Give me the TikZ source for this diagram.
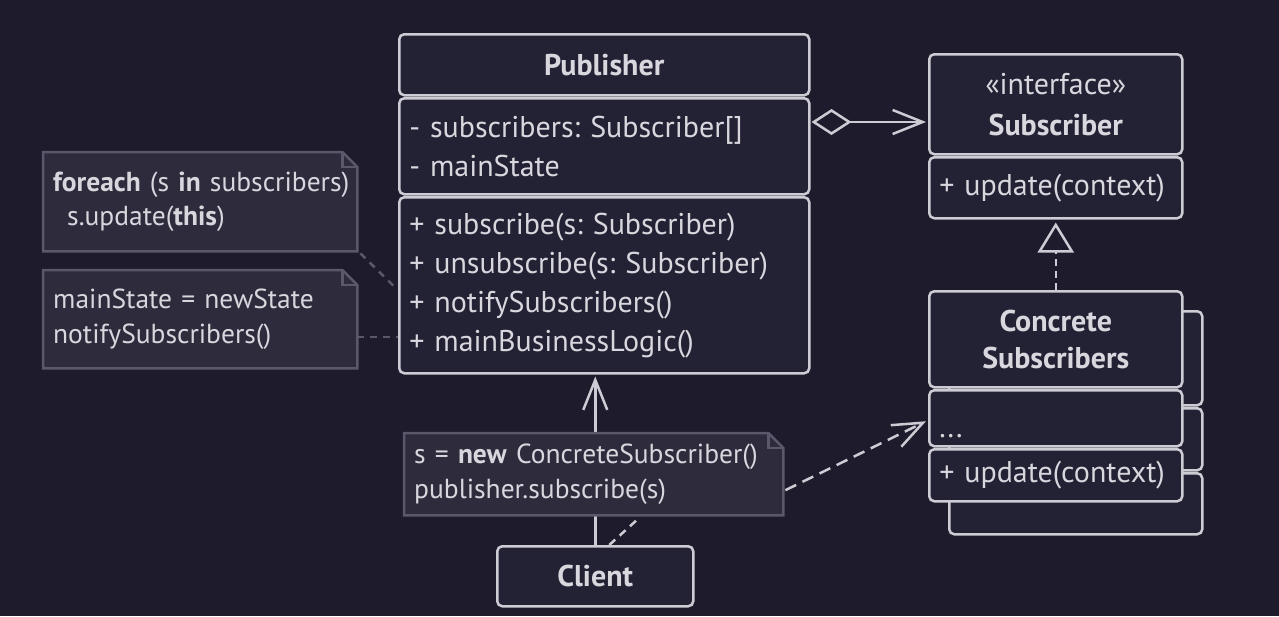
\documentclass[tikz,border=0pt]{standalone}
\usepackage{fontspec}
\setmainfont{PT Sans}
\usetikzlibrary{arrows.meta,backgrounds,positioning}

\definecolor{bgcol}{RGB}{30,28,44}
\definecolor{boxcol}{RGB}{35,33,52}
\definecolor{linecol}{RGB}{205,204,212}
\definecolor{textcol}{RGB}{216,215,222}
\definecolor{notecol}{RGB}{45,43,60}
\definecolor{noteline}{RGB}{90,88,106}

% note outline with folded corner, drawn round a named node
\newcommand{\notefold}[1]{%
  \draw[noteline,fill=notecol,line width=2.5pt,line join=miter]
    (#1.north west) -- ([xshift=-15pt]#1.north east)
    -- ([yshift=-15pt]#1.north east) -- (#1.south east)
    -- (#1.south west) -- cycle;
  \draw[noteline,line width=2.5pt]
    ([xshift=-15pt]#1.north east) |- ([yshift=-15pt]#1.north east);
}

\begin{document}
\frenchspacing
\begin{tikzpicture}[x=1pt,y=-1pt]
    % `compart' is one compartment of a class box.
    % `note' is the text part of a comment, its outline comes from \notefold.
    \tikzstyle{compart} = [draw=linecol,fill=boxcol,line width=2.5pt,rounded corners=5pt,
      anchor=north west,inner xsep=10pt,inner ysep=0pt,text=textcol,
      font=\fontsize{30}{39}\selectfont]
    \tikzstyle{note} = [anchor=north west,inner xsep=10pt,inner ysep=0pt,align=left,
      text=textcol,font=\fontsize{27.5}{34.5}\selectfont]
    \tikzstyle{uml} = [linecol,line width=2.5pt]
    \tikzstyle{barb} = [-{Straight Barb[length=30pt,width=24pt,line width=2.5pt]}]
    \tikzstyle{notelink} = [noteline,line width=2.5pt,dash pattern=on 7pt off 6pt]
    %
    \useasboundingbox (0,0) rectangle (1279,616);
    %
    % Publisher
    \node[compart,align=center,text width=390pt,minimum height=61pt] (pubhead) at (398,33)
      {\bfseries Publisher};
    \node[compart,align=left,text width=390pt,minimum height=96pt] (pubattr) at (398,97)
      {- subscribers: Subscriber[]\\- mainState};
    \node[compart,align=left,text width=390pt,minimum height=176pt] (pubops) at (398,196)
      {+ subscribe(s: Subscriber)\\+ unsubscribe(s: Subscriber)\\
       + notifySubscribers()\\+ mainBusinessLogic()};
    %
    % Subscriber interface
    \node[compart,align=center,text width=233pt,minimum height=100pt] (subhead) at (928,53)
      {«interface»\\[2pt]\bfseries Subscriber};
    \node[compart,align=left,text width=233pt,minimum height=61pt] (subops) at (928,156)
      {+ update(context)};
    %
    % Concrete subscribers, one box stacked behind the other
    \node[compart,text width=233pt,minimum height=94pt] (backhead) at (948,310) {};
    \node[compart,text width=233pt,minimum height=62pt] (backattr) at (948,407) {};
    \node[compart,text width=233pt,minimum height=61pt] (backops) at (948,472) {};
    \node[compart,align=center,text width=233pt,minimum height=96pt] (conhead) at (928,290)
      {\bfseries Concrete\\[-2pt]\bfseries Subscribers};
    \node[compart,align=left,text width=233pt,minimum height=56pt] (conattr) at (928,389)
      {\strut\raisebox{-11pt}[0pt][0pt]{...}};
    \node[compart,align=left,text width=233pt,minimum height=52pt] (conops) at (928,448)
      {+ update(context)};
    %
    % Client
    \node[compart,align=center,text width=176pt,minimum height=60pt] (client) at (496,545)
      {\bfseries Client};
    %
    % Notes
    \node[note,text width=294pt,minimum height=99pt] (notifynote) at (43,152)
      {\mbox{\textbf{foreach} (s \textbf{in} subscribers)}\\\hspace*{14pt}s.update(\textbf{this})};
    \node[note,text width=294pt,minimum height=98pt] (logicnote) at (43,270)
      {mainState = newState\\notifySubscribers()};
    \node[note,text width=359pt,minimum height=82pt] (clientnote) at (404,433)
      {s = \textbf{new} ConcreteSubscriber()\\publisher.subscribe(s)};
    %
    \begin{pgfonlayer}{background}
        % Draw background.
        \fill[bgcol] (0,0) rectangle (1279,616);
        % Client uses the publisher, the arrow runs behind the note.
        \draw[uml,barb] (client.north) -- ([yshift=-2pt]client.north |- pubops.south);
        % Draw note outlines.
        \notefold{notifynote}
        \notefold{logicnote}
        \notefold{clientnote}
    \end{pgfonlayer}
    %
    % Connectors
    \coordinate (aggy) at (0,122);
    \draw[uml,{Diamond[open,length=40pt,width=26pt,line width=2.5pt]}-{Straight Barb[length=30pt,width=24pt,line width=2.5pt]}]
      ([xshift=1pt]pubattr.east |- aggy) -- ([xshift=-2pt]subhead.west |- aggy);
    \draw[uml,dash pattern=on 7pt off 5pt] (conhead.north) -- ([yshift=-31pt]subops.south);
    \draw[uml,-{Triangle[open,length=30pt,width=36pt,line width=2.5pt,fill=bgcol]}]
      ([yshift=-31pt]subops.south) -- ([yshift=-3pt]subops.south);
    \draw[uml,barb,dash pattern=on 12pt off 7pt]
      ([xshift=2pt,yshift=-16pt]clientnote.east) -- ([xshift=-2pt,yshift=-3pt]conattr.west);
    \draw[uml,dash pattern=on 8pt off 6pt]
      ([xshift=14pt]client.north) -- ([xshift=46pt,yshift=-2pt]clientnote.south);
    \coordinate (logicend) at ([yshift=-18pt]logicnote.east);
    \draw[notelink] ([xshift=3pt,yshift=-2pt]notifynote.south east) -- ([xshift=-1pt,yshift=-4pt]pubops.west);
    \draw[notelink] (logicend) -- (pubops.west |- logicend);
\end{tikzpicture}
\end{document}
